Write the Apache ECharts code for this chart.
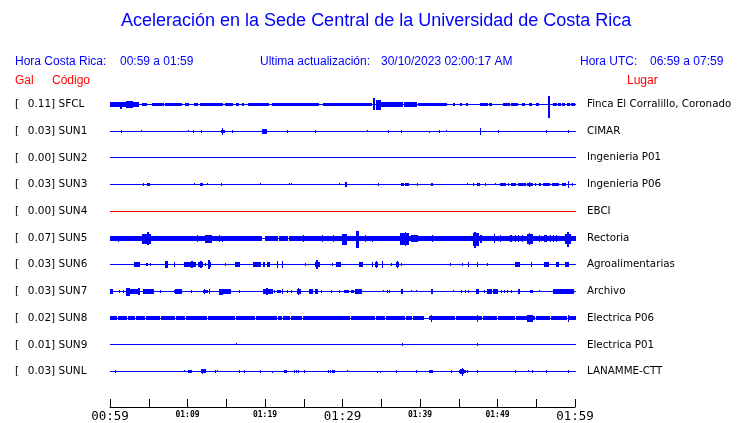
<!DOCTYPE html>
<html>
<head>
<meta charset="utf-8">
<script src="https://cdn.jsdelivr.net/npm/echarts@6/dist/echarts.min.js"></script>
<style>
html,body{margin:0;padding:0;background:#fff;}
#chart{width:740px;height:423px;}
</style>
</head>
<body>
<div id="chart"></div>
<script>
// ---- data ----
const codes = ['SFCL','SUN1','SUN2','SUN3','SUN4','SUN5','SUN6','SUN7','SUN8','SUN9','SUNL'];
const galValues = ['0.11','0.03','0.00','0.03','0.00','0.07','0.03','0.03','0.02','0.01','0.03'];
const places = ['Finca El Corralillo, Coronado','CIMAR','Ingenieria P01','Ingenieria P06','EBCI','Rectoria','Agroalimentarias','Archivo','Electrica P06','Electrica P01','LANAMME-CTT'];
const timeLabels = ['00:59','01:04','01:09','01:14','01:19','01:24','01:29','01:34','01:39','01:44','01:49','01:54','01:59'];

// bursts per trace: [startMinute, endMinute, amplitudeUp, amplitudeDown]
const SFCL = [[0,3.6,2,2],[1.3,1.4,1,4],[2.0,2.8,3,3],[4.1,4.7,1,1],[5.4,6.9,1,1],[7.1,9.2,1,1],[9.7,10.1,1,1],[10.8,11.2,1,1],[11.6,14.4,1,1],[14.8,15.7,1,1],[16.3,16.5,1,1],[17.0,17.2,1,1],[17.8,20.4,1,1],[20.9,26.9,1,1],[27.5,33.7,1,1],[33.9,34.1,6,5],[34.3,34.9,4,5],[35.0,37.7,2,2],[37.9,39.5,2,2],[39.7,43.4,1,1],[44.2,44.4,1,1],[45.1,45.3,1,1],[45.9,46.1,1,1],[47.7,48.6,1,1],[48.9,49.1,1,1],[50.7,51.5,1,1],[51.7,52.5,1,1],[53.2,53.4,1,1],[54.1,54.3,1,1],[55.0,55.2,1,1],[56.5,56.6,8,13],[57.2,57.6,1,1],[57.8,58.1,1,1],[58.3,58.6,1,1],[59.0,59.2,1,1],[59.5,59.9,1,1]];
const SUN1 = [[1.4,1.4,1,1],[4.0,4.0,1,0],[10.0,10.0,1,0],[10.75,10.75,1,1],[11.8,11.8,1,1],[14.5,14.5,3,3],[14.3,14.7,1,1],[15.7,15.7,1,1],[19.6,20.1,2,2],[22.9,22.9,1,1],[26.5,26.5,1,1],[33.2,33.2,1,0],[35.9,35.9,1,1],[37.6,37.6,1,1],[41.1,41.1,0,1],[42.4,42.4,1,1],[43.4,43.4,1,0],[47.8,47.8,3,3],[50.0,50.0,1,1],[56.3,56.3,1,1],[59.1,59.1,1,1]];
const SUN2 = [];
const SUN3 = [[4.2,4.2,1,1],[4.8,5.0,1,1],[10.9,10.9,1,0],[11.6,11.9,1,1],[12.5,12.5,1,0],[14.3,14.3,1,1],[19.4,19.4,1,0],[23.1,23.1,1,0],[23.3,23.3,1,0],[29.5,29.5,1,0],[30.3,30.5,2,2],[34.6,34.6,1,1],[37.5,37.8,1,1],[38.1,38.5,1,1],[39.6,39.6,1,1],[41.4,41.6,1,1],[46.0,46.0,1,0],[46.9,46.9,1,1],[47.3,47.6,1,1],[48.4,48.4,1,1],[49.7,49.7,1,0],[50.3,50.3,1,1],[50.5,51.0,1,1],[51.4,51.4,1,1],[51.8,52.3,1,1],[52.7,53.5,1,1],[53.8,54.4,1,1],[54.1,54.1,2,2],[54.8,54.8,1,1],[55.3,55.5,1,1],[55.9,56.6,1,1],[57.0,57.8,1,1],[58.3,58.7,1,1],[59.1,59.1,3,3],[59.6,59.6,1,1]];
const SUN4 = [];
const SUN5 = [[0,3.7,2,2],[3.8,19.5,2,2],[20.0,21.6,2,2],[21.8,22.9,2,2],[23.1,37.3,2,2],[37.4,44.0,2,2],[44.1,60,2,2],[1.0,1.0,0,3],[4.1,5.2,4,5],[4.8,4.9,6,6],[11.2,11.2,3,3],[12.3,13.0,3,4],[14.0,14.0,3,3],[14.4,14.4,2,3],[24.9,24.9,3,3],[27.3,27.3,3,3],[28.8,28.8,3,3],[29.9,30.5,4,6],[31.8,32.0,7,9],[32.9,32.9,3,3],[33.8,33.8,2,3],[37.4,38.5,5,6],[38.0,38.1,6,7],[38.9,39.6,3,3],[41.5,41.5,3,3],[46.9,47.5,5,7],[47.0,47.1,6,9],[47.7,47.9,3,4],[49.5,49.5,4,4],[50.3,50.3,3,3],[51.6,51.8,3,3],[52.2,52.2,3,3],[52.6,52.7,3,3],[53.1,53.1,3,3],[53.8,54.4,4,5],[54.0,54.1,5,6],[55.3,55.4,3,3],[56.0,56.2,3,3],[56.8,56.8,3,3],[57.2,57.2,3,3],[57.6,57.6,3,3],[58.7,59.4,4,5],[59.0,59.1,6,8]];
const SUN6 = [[3.1,3.7,2,2],[4.7,4.8,1,1],[5.1,5.2,1,1],[7.1,7.3,3,3],[8.2,8.2,2,2],[9.6,10.1,2,2],[10.2,11.0,2,2],[10.5,10.6,3,3],[11.3,11.9,2,2],[11.6,11.7,3,3],[12.2,12.2,1,1],[12.6,12.9,2,2],[12.7,12.8,4,4],[14.8,14.8,1,1],[16.1,16.6,2,2],[18.4,19.4,2,2],[19.7,19.9,2,2],[20.2,20.5,2,2],[21.6,21.6,3,3],[22.2,22.2,3,3],[25.2,25.2,1,1],[26.4,27.0,2,2],[26.6,26.7,4,4],[28.6,28.6,1,1],[29.1,29.7,2,2],[32.1,32.5,2,2],[33.8,33.8,2,2],[34.2,34.4,2,2],[34.3,34.3,3,3],[35.1,35.1,3,3],[36.3,36.3,1,1],[36.9,37.1,2,2],[37.0,37.0,3,3],[37.6,37.6,1,1],[43.9,43.9,1,1],[45.4,45.4,1,1],[46.2,46.2,2,2],[47.3,47.3,2,2],[48.7,48.7,1,1],[52.3,52.8,2,2],[54.3,54.3,2,2],[56.0,56.5,2,2],[57.6,57.8,2,2],[58.7,59.1,2,2]];
const SUN7 = [[0,0.3,2,2],[1.1,1.1,1,1],[1.7,1.7,1,1],[2.0,2.4,3,4],[2.4,3.7,2,2],[3.6,3.7,3,3],[4.3,5.6,2,2],[6.5,6.5,1,1],[8.2,8.2,1,1],[8.4,9.2,2,2],[10.5,10.5,1,1],[12.0,12.5,1,1],[12.1,12.1,2,2],[12.8,12.8,2,2],[14.0,14.4,2,3],[14.6,15.5,2,2],[16.6,16.6,1,1],[19.8,20.9,2,2],[20.1,20.2,3,3],[21.1,21.1,1,1],[21.6,21.9,1,1],[22.2,22.2,2,2],[22.8,22.8,1,1],[23.3,23.3,1,1],[24.1,24.5,2,2],[24.3,24.3,3,3],[25.7,26.1,2,2],[26.4,26.7,2,2],[27.2,27.2,1,1],[28.5,28.5,1,1],[29.5,29.5,1,1],[30.2,30.7,1,1],[31.1,31.3,1,1],[31.6,32.4,2,2],[35.2,35.2,1,0],[35.7,35.7,1,1],[36.0,36.0,1,1],[37.5,37.7,2,2],[38.9,38.9,1,0],[39.5,39.5,1,0],[41.4,41.6,2,2],[44.3,44.3,1,0],[45.3,45.3,1,1],[45.8,45.8,1,1],[46.2,46.2,1,1],[47.2,47.5,2,2],[48.3,48.3,1,1],[48.7,49.2,2,2],[49.4,49.9,2,2],[50.5,50.5,1,1],[50.9,50.9,1,1],[51.2,51.2,1,1],[51.7,51.7,1,1],[52.6,52.8,2,2],[54.2,54.4,1,1],[55.4,55.4,1,0],[57.2,59.8,2,2]];
const SUN8 = [[0,0.77,2,1],[0.99,2.06,2,1],[2.28,3.14,2,1],[3.35,4.43,2,1],[4.65,6.37,2,1],[6.58,8.30,2,1],[8.52,9.59,2,1],[9.81,12.39,2,1],[12.60,16.04,2,1],[16.26,17.12,2,1],[17.33,17.76,2,1],[17.98,18.62,2,1],[18.84,20.99,2,1],[21.2,21.42,2,1],[21.63,22.06,2,1],[22.28,23.14,2,1],[23.35,24.65,2,1],[24.86,27.44,2,1],[27.66,30.88,2,1],[31.1,31.31,2,1],[31.53,32.6,2,1],[32.82,34.11,2,1],[34.32,35.4,2,1],[35.61,35.83,2,1],[36.04,37.12,2,1],[37.33,37.98,2,1],[38.19,38.84,2,1],[39.05,40.34,2,1],[41.16,42.28,2,1],[42.49,44.43,2,1],[44.65,47.87,2,1],[48.09,49.81,2,1],[50.02,52.17,2,1],[52.39,54.75,2,1],[54.97,55.18,2,1],[55.4,56.69,2,1],[56.9,58.84,2,1],[59.14,60,2,1],[41.4,41.4,3,3],[47.4,47.4,3,3],[53.8,54.4,3,3],[59.1,59.1,3,3]];
const SUN9 = [[16.3,16.3,1,0],[37.7,37.7,1,1],[47.4,47.4,1,1]];
const SUNL = [[0.7,0.7,1,1],[9.5,9.5,1,0],[10.0,10.5,1,1],[11.7,12.3,2,1],[11.9,11.9,2,2],[13.5,13.5,1,1],[13.8,13.8,1,0],[16.7,16.7,1,1],[17.3,17.3,1,1],[19.4,19.4,1,1],[20.9,20.9,0,1],[22.4,22.7,1,1],[23.7,23.7,1,1],[24.0,24.0,1,1],[24.3,24.3,1,1],[25.0,25.0,1,1],[28.1,28.1,1,1],[28.4,28.4,1,1],[28.7,28.9,1,1],[30.6,30.6,1,0],[34.5,34.5,0,1],[34.8,34.8,0,1],[36.9,36.9,1,1],[39.5,39.5,1,1],[41.2,41.5,1,1],[44.0,44.0,1,1],[45.0,45.8,1,1],[45.2,45.6,2,2],[45.4,45.4,3,4],[46.0,46.0,1,1],[47.4,47.4,1,1],[52.2,52.2,1,1],[53.9,53.9,1,0],[54.4,54.4,1,1],[56.2,56.2,1,1],[59.1,59.1,1,1]];

const traces = [SFCL, SUN1, SUN2, SUN3, SUN4, SUN5, SUN6, SUN7, SUN8, SUN9, SUNL];

// ---- rendering ----
const UNITS_PER_TRACE = 27;  // amplitude units per trace spacing
const BLUE = '#0000ff', RED = '#ff0000';
const traceColor = i => codes[i] === 'SUN4' ? RED : BLUE;

function burstRender(params, api) {
  const idx = api.value(4);
  const p0 = api.coord([api.value(0), idx]);
  const p1 = api.coord([api.value(1), idx]);
  const band = api.size([0, 1])[1];
  const k = band / UNITS_PER_TRACE;
  const row = Math.floor(p0[1]);
  const up = Math.round(api.value(2) * k), dn = Math.round(api.value(3) * k);
  const x0 = Math.round(p0[0]), x1 = Math.round(p1[0]);
  return {
    type: 'rect',
    shape: { x: x0, y: row - up, width: Math.max(1, x1 - x0 + 1), height: up + dn + 1 },
    style: { fill: traceColor(idx) }
  };
}

const baseData = codes.map((c, i) => [0, 60, 0, 0, i]);
const burstData = [];
traces.forEach((tr, i) => tr.forEach(b => burstData.push([b[0], b[1], b[2], b[3], i])));

const FONT = 'DejaVu Sans';
const HFONT = 'Liberation Sans';
const hdr = (text, left, top, color) => ({ text, left, top, padding: 0,
  textStyle: { fontFamily: HFONT, fontSize: 12, fontWeight: 'normal', color } });

const chart = echarts.init(document.getElementById('chart'), null, { renderer: 'canvas' });
chart.setOption({
  animation: false,
  backgroundColor: '#fff',
  title: [
    { text: 'Aceleración en la Sede Central de la Universidad de Costa Rica', left: 121, top: 12,
      textStyle: { fontFamily: HFONT, fontSize: 18, fontWeight: 'normal', color: BLUE }, padding: 0 },
    hdr('Hora Costa Rica:', 15, 56, BLUE),
    hdr('00:59 a 01:59', 120, 56, BLUE),
    hdr('Ultima actualización:', 260, 56, BLUE),
    hdr('30/10/2023 02:00:17 AM', 381, 56, BLUE),
    hdr('Hora UTC:', 580, 56, BLUE),
    hdr('06:59 a 07:59', 650, 56, BLUE),
    hdr('Gal', 15, 75, RED),
    hdr('Código', 52, 75, RED),
    hdr('Lugar', 627, 75, RED)
  ],
  grid: { left: 110, right: 165, top: 91, bottom: 35, containLabel: false },
  xAxis: {
    type: 'value', min: 0, max: 60, interval: 5, offset: 22,
    axisLine: { show: true, onZero: false, lineStyle: { color: '#000', width: 1 } },
    axisTick: { show: true, inside: true, length: 8, lineStyle: { color: '#000', width: 1 } },
    splitLine: { show: false },
    axisLabel: {
      show: true, margin: 3,
      formatter: v => {
        const i = Math.round(v / 5);
        if (i % 2) return '';
        return (v % 30 === 0) ? '{big|' + timeLabels[i] + '}' : '{sm|' + timeLabels[i] + '}';
      },
      rich: {
        big: { fontFamily: 'DejaVu Sans Mono', fontSize: 12.5, color: '#000' },
        sm: { fontFamily: 'DejaVu Sans Mono', fontSize: 8, fontWeight: 'bold', color: '#000', padding: [1, 0, 0, 0] }
      }
    }
  },
  yAxis: [
    {
      type: 'category', data: codes, inverse: true, position: 'left',
      axisLine: { show: false }, axisTick: { show: false }, splitLine: { show: false },
      axisLabel: {
        align: 'left', margin: 95,
        formatter: (v, i) => '{br|[}{t|' + galValues[i] + '] ' + v + '}',
        rich: {
          br: { fontFamily: FONT, fontSize: 10.5, color: '#000', width: 12.7 },
          t: { fontFamily: FONT, fontSize: 10.5, color: '#000' }
        }
      }
    },
    {
      type: 'category', data: places, inverse: true, position: 'right',
      axisLine: { show: false }, axisTick: { show: false }, splitLine: { show: false },
      axisLabel: { align: 'left', margin: 12, fontFamily: FONT, fontSize: 10.3, color: '#000' }
    }
  ],
  series: [
    { type: 'custom', name: 'baseline', yAxisIndex: 0, clip: false, data: baseData,
      encode: { x: [0, 1], y: 4 }, renderItem: burstRender, silent: true },
    { type: 'custom', name: 'bursts', yAxisIndex: 0, clip: false, data: burstData,
      encode: { x: [0, 1], y: 4 }, renderItem: burstRender, silent: true }
  ]
});
</script>
</body>
</html>
